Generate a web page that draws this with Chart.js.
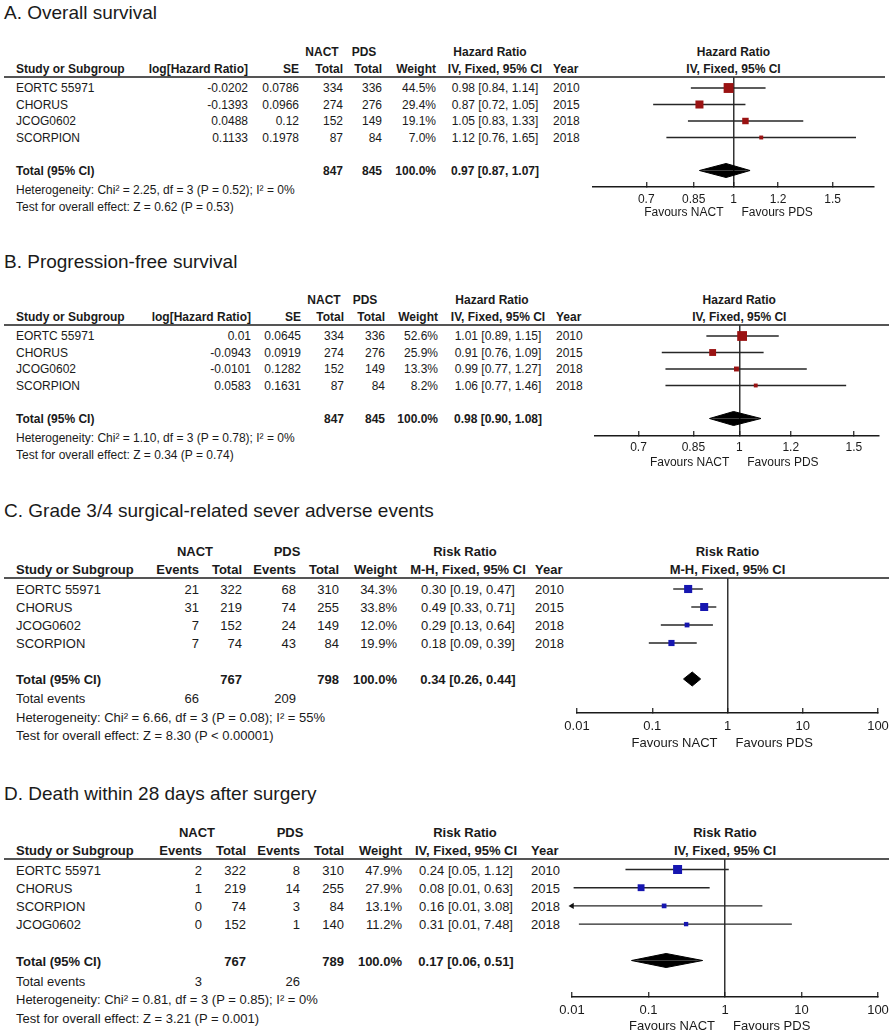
<!DOCTYPE html>
<html>
<head>
<meta charset="utf-8">
<script src="https://cdn.jsdelivr.net/npm/chart.js@4.4.1/dist/chart.umd.min.js"></script>
<style>
body { margin: 0; background: #fff; }
#page { position: relative; width: 894px; height: 1034px; overflow: hidden;
        font-family: 'Liberation Sans', Arial, sans-serif; color: #1a1a1a; }
.t { position: absolute; white-space: nowrap; line-height: 1; }
.b { font-weight: bold; }
.rule { position: absolute; height: 2px; background: #555; }
canvas { position: absolute; }
</style>
</head>
<body>
<div id="page"></div>
<script>
// A. Overall survival
const studiesA = ['EORTC 55971', 'CHORUS', 'JCOG0602', 'SCORPION'];
const yearsA = [2010, 2015, 2018, 2018];
const logHrA = [-0.0202, -0.1393, 0.0488, 0.1133];
const seA = [0.0786, 0.0966, 0.12, 0.1978];
const nactTotalA = [334, 274, 152, 87];
const pdsTotalA = [336, 276, 149, 84];
const weightA = [44.5, 29.4, 19.1, 7.0];
const hrA = [0.98, 0.87, 1.05, 1.12];
const hrLowA = [0.84, 0.72, 0.83, 0.76];
const hrHighA = [1.14, 1.05, 1.33, 1.65];
const totalA = [0.97, 0.87, 1.07];
const sumsA = [847, 845];
const statsA = ['Heterogeneity: Chi² = 2.25, df = 3 (P = 0.52); I² = 0%', 'Test for overall effect: Z = 0.62 (P = 0.53)'];
const ticksA = [0.7, 0.85, 1, 1.2, 1.5];

// B. Progression-free survival
const studiesB = ['EORTC 55971', 'CHORUS', 'JCOG0602', 'SCORPION'];
const yearsB = [2010, 2015, 2018, 2018];
const logHrB = [0.01, -0.0943, -0.0101, 0.0583];
const seB = [0.0645, 0.0919, 0.1282, 0.1631];
const nactTotalB = [334, 274, 152, 87];
const pdsTotalB = [336, 276, 149, 84];
const weightB = [52.6, 25.9, 13.3, 8.2];
const hrB = [1.01, 0.91, 0.99, 1.06];
const hrLowB = [0.89, 0.76, 0.77, 0.77];
const hrHighB = [1.15, 1.09, 1.27, 1.46];
const totalB = [0.98, 0.90, 1.08];
const sumsB = [847, 845];
const statsB = ['Heterogeneity: Chi² = 1.10, df = 3 (P = 0.78); I² = 0%', 'Test for overall effect: Z = 0.34 (P = 0.74)'];
const ticksB = [0.7, 0.85, 1, 1.2, 1.5];

// C. Grade 3/4 surgical-related adverse events
const studiesC = ['EORTC 55971', 'CHORUS', 'JCOG0602', 'SCORPION'];
const yearsC = [2010, 2015, 2018, 2018];
const nactEventsC = [21, 31, 7, 7];
const nactTotalC = [322, 219, 152, 74];
const pdsEventsC = [68, 74, 24, 43];
const pdsTotalC = [310, 255, 149, 84];
const weightC = [34.3, 33.8, 12.0, 19.9];
const rrC = [0.30, 0.49, 0.29, 0.18];
const rrLowC = [0.19, 0.33, 0.13, 0.09];
const rrHighC = [0.47, 0.71, 0.64, 0.39];
const totalC = [0.34, 0.26, 0.44];
const sumsC = [767, 798];
const eventsC = [66, 209];
const statsC = ['Heterogeneity: Chi² = 6.66, df = 3 (P = 0.08); I² = 55%', 'Test for overall effect: Z = 8.30 (P < 0.00001)'];
const ticksC = [0.01, 0.1, 1, 10, 100];

// D. Death within 28 days
const studiesD = ['EORTC 55971', 'CHORUS', 'SCORPION', 'JCOG0602'];
const yearsD = [2010, 2015, 2018, 2018];
const nactEventsD = [2, 1, 0, 0];
const nactTotalD = [322, 219, 74, 152];
const pdsEventsD = [8, 14, 3, 1];
const pdsTotalD = [310, 255, 84, 140];
const weightD = [47.9, 27.9, 13.1, 11.2];
const rrD = [0.24, 0.08, 0.16, 0.31];
const rrLowD = [0.05, 0.0105, 0.008, 0.0123];
const rrHighD = [1.12, 0.63, 3.08, 7.48];
const totalD = [0.17, 0.06, 0.51];
const sumsD = [767, 789];
const eventsD = [3, 26];
const statsD = ['Heterogeneity: Chi² = 0.81, df = 3 (P = 0.85); I² = 0%', 'Test for overall effect: Z = 3.21 (P = 0.001)'];
const ticksD = [0.01, 0.1, 1, 10, 100];

const FONT = "'Liberation Sans', Arial, sans-serif";
const page = document.getElementById('page');

function put(s, x, y, align, size, bold) {
    const d = document.createElement('div');
    d.className = 't' + (bold ? ' b' : '');
    d.textContent = s;
    d.style.left = x + 'px';
    d.style.top = y + 'px';
    d.style.fontSize = size + 'px';
    const tx = align === 'right' ? -100 : align === 'center' ? -50 : 0;
    d.style.transform = 'translate(' + tx + '%, -50%)';
    page.appendChild(d);
}

const pct = w => w.toFixed(1) + '%';
const ci = (e, l, h) => e.toFixed(2) + ' [' + l.toFixed(2) + ', ' + h.toFixed(2) + ']';

function hrCols(x, studies, logHr, se, nT, pT, w, e, lo, hi, tot, sums, years, ciHead) {
    return [
        { x: x[0], a: 'left', h: 'Study or Subgroup', v: studies, t: 'Total (95% CI)' },
        { x: x[1], a: 'right', h: 'log[Hazard Ratio]', v: logHr.map(String) },
        { x: x[2], a: 'right', h: 'SE', v: se.map(String) },
        { x: x[3], a: 'right', h: 'Total', v: nT, t: sums[0] },
        { x: x[4], a: 'right', h: 'Total', v: pT, t: sums[1] },
        { x: x[5], a: 'right', h: 'Weight', v: w.map(pct), t: '100.0%' },
        { x: x[6], a: 'center', h: ciHead, v: e.map((v, i) => ci(v, lo[i], hi[i])), t: ci(tot[0], tot[1], tot[2]) },
        { x: x[7], a: 'left', h: 'Year', v: years }
    ];
}

function rrCols(x, studies, nE, nT, pE, pT, w, e, lo, hi, tot, sums, events, years, ciHead) {
    return [
        { x: x[0], a: 'left', h: 'Study or Subgroup', v: studies, t: 'Total (95% CI)', ev: 'Total events' },
        { x: x[1], a: 'right', h: 'Events', v: nE, ev: events[0] },
        { x: x[2], a: 'right', h: 'Total', v: nT, t: sums[0] },
        { x: x[3], a: 'right', h: 'Events', v: pE, ev: events[1] },
        { x: x[4], a: 'right', h: 'Total', v: pT, t: sums[1] },
        { x: x[5], a: 'right', h: 'Weight', v: w.map(pct), t: '100.0%' },
        { x: x[6], a: 'center', h: ciHead, v: e.map((v, i) => ci(v, lo[i], hi[i])), t: ci(tot[0], tot[1], tot[2]) },
        { x: x[7], a: 'left', h: 'Year', v: years }
    ];
}

const panels = [
    {
        title: 'A. Overall survival', font: 12, titleY: 12, h1Y: 52, h2Y: 69, lineY: 77, lineR: 885,
        row0: 88, step: 16.5, hetY: 190, testY: 207,
        plotL: 593, plotR: 874, axisY: 187, xmin: 0.563, xmax: 1.776, k: 1.48, color: '#9a1212',
        tickPad: 10, favDy: 25,
        groups: [['NACT', 322], ['PDS', 364], ['Hazard Ratio', 490]],
        plotHead: ['Hazard Ratio', 'IV, Fixed, 95% CI'],
        cols: hrCols([16, 248, 299, 343, 382, 436, 495, 553], studiesA, logHrA, seA, nactTotalA, pdsTotalA,
            weightA, hrA, hrLowA, hrHighA, totalA, sumsA, yearsA, 'IV, Fixed, 95% CI'),
        est: hrA, low: hrLowA, high: hrHighA, weight: weightA, total: totalA, stats: statsA, ticks: ticksA
    },
    {
        title: 'B. Progression-free survival', font: 12, titleY: 261, h1Y: 300, h2Y: 317, lineY: 325, lineR: 889,
        row0: 336, step: 16.5, hetY: 438, testY: 455,
        plotL: 595, plotR: 879, axisY: 436, xmin: 0.61, xmax: 1.64, k: 1.35, color: '#9a1212',
        tickPad: 9, favDy: 26,
        groups: [['NACT', 324], ['PDS', 365], ['Hazard Ratio', 492]],
        plotHead: ['Hazard Ratio', 'IV, Fixed, 95% CI'],
        cols: hrCols([16, 251, 301, 344, 385, 438, 498, 556], studiesB, logHrB, seB, nactTotalB, pdsTotalB,
            weightB, hrB, hrLowB, hrHighB, totalB, sumsB, yearsB, 'IV, Fixed, 95% CI'),
        est: hrB, low: hrLowB, high: hrHighB, weight: weightB, total: totalB, stats: statsB, ticks: ticksB
    },
    {
        title: 'C. Grade 3/4 surgical-related sever adverse events', font: 13, titleY: 510, h1Y: 551, h2Y: 569, lineY: 578, lineR: 889,
        row0: 589, step: 18, evY: 698, hetY: 717, testY: 735,
        plotL: 577, plotR: 878, axisY: 713, xmin: 0.01, xmax: 100, k: 1.38, color: '#1616b0',
        tickPad: 11, favDy: 29,
        groups: [['NACT', 195], ['PDS', 287], ['Risk Ratio', 465]],
        plotHead: ['Risk Ratio', 'M-H, Fixed, 95% CI'],
        cols: rrCols([16, 199, 242, 296, 339, 397, 468, 535], studiesC, nactEventsC, nactTotalC, pdsEventsC, pdsTotalC,
            weightC, rrC, rrLowC, rrHighC, totalC, sumsC, eventsC, yearsC, 'M-H, Fixed, 95% CI'),
        est: rrC, low: rrLowC, high: rrHighC, weight: weightC, total: totalC, stats: statsC, ticks: ticksC
    },
    {
        title: 'D. Death within 28 days after surgery', font: 13, titleY: 793, h1Y: 832, h2Y: 850, lineY: 859, lineR: 889,
        row0: 869.5, step: 18.2, evY: 981, hetY: 999, testY: 1018,
        plotL: 572, plotR: 878, axisY: 997, xmin: 0.01, xmax: 100, k: 1.3, color: '#1616b0',
        tickPad: 11, favDy: 28,
        groups: [['NACT', 197], ['PDS', 290], ['Risk Ratio', 465]],
        plotHead: ['Risk Ratio', 'IV, Fixed, 95% CI'],
        cols: rrCols([16, 202, 246, 300, 344, 402, 466, 531], studiesD, nactEventsD, nactTotalD, pdsEventsD, pdsTotalD,
            weightD, rrD, rrLowD, rrHighD, totalD, sumsD, eventsD, yearsD, 'IV, Fixed, 95% CI'),
        est: rrD, low: rrLowD, high: rrHighD, weight: weightD, total: totalD, stats: statsD, ticks: ticksD
    }
];

const TOTAL_ROW = 5;

function drawTable(p) {
    const f = p.font;
    put(p.title, 4, p.titleY, 'left', 19, false);
    p.groups.forEach(g => put(g[0], g[1], p.h1Y, 'center', f, true));
    p.cols.forEach(c => {
        put(c.h, c.x, p.h2Y, c.a, f, true);
        c.v.forEach((v, i) => put(String(v), c.x, p.row0 + i * p.step, c.a, f, false));
        if (c.t !== undefined) put(String(c.t), c.x, p.row0 + TOTAL_ROW * p.step, c.a, f, true);
        if (c.ev !== undefined && p.evY) put(String(c.ev), c.x, p.evY, c.a, f, false);
    });
    put(p.stats[0], 16, p.hetY, 'left', f, false);
    put(p.stats[1], 16, p.testY, 'left', f, false);
    const r = document.createElement('div');
    r.className = 'rule';
    r.style.left = '4px';
    r.style.top = (p.lineY - 1) + 'px';
    r.style.width = (p.lineR - 4) + 'px';
    page.appendChild(r);
}

function drawForest(p) {
    const padX = 24, below = 34;
    const w = p.plotR - p.plotL + 2 * padX;
    const h = p.axisY - p.lineY + below;
    const cv = document.createElement('canvas');
    cv.width = w; cv.height = h;
    cv.style.width = w + 'px'; cv.style.height = h + 'px';
    cv.style.left = (p.plotL - padX) + 'px';
    cv.style.top = p.lineY + 'px';
    page.appendChild(cv);

    const datasets = [];
    // boxes, sized by weight
    datasets.push({
        type: 'scatter', order: 0,
        data: p.est.map((v, i) => ({ x: v, y: i })),
        pointStyle: 'rect',
        pointRadius: c => p.k * Math.sqrt(p.weight[c.dataIndex]) / Math.SQRT2,
        backgroundColor: p.color, borderColor: p.color, borderWidth: 0
    });
    // confidence intervals
    p.est.forEach((v, i) => {
        datasets.push({
            type: 'line', order: 2,
            data: [{ x: Math.max(p.low[i], p.xmin), y: i }, { x: Math.min(p.high[i], p.xmax), y: i }],
            borderColor: '#262626', borderWidth: 1.4, pointRadius: 0, fill: false
        });
    });
    // arrows for intervals running off the scale
    const cut = p.low.map((v, i) => v < p.xmin ? i : -1).filter(i => i >= 0);
    if (cut.length) {
        datasets.push({
            type: 'scatter', order: 1, clip: false,
            data: cut.map(i => ({ x: p.xmin, y: i })),
            pointStyle: 'triangle', rotation: -90, pointRadius: 3.5,
            backgroundColor: '#111', borderWidth: 0
        });
    }
    // pooled diamond
    const [te, tl, th] = p.total;
    const dh = 7 / p.step;
    [-1, 1].forEach(s => {
        datasets.push({
            type: 'line', order: 1,
            data: [{ x: tl, y: TOTAL_ROW }, { x: te, y: TOTAL_ROW + s * dh }, { x: th, y: TOTAL_ROW }],
            fill: { value: TOTAL_ROW }, backgroundColor: '#000', borderColor: '#000',
            borderWidth: 1, pointRadius: 0
        });
    });

    const chart = new Chart(cv, {
        type: 'scatter',
        data: { datasets: datasets },
        options: {
            responsive: false,
            animation: false,
            events: [],
            layout: { autoPadding: false, padding: { left: padX, right: padX, top: 0, bottom: 0 } },
            plugins: { legend: { display: false }, tooltip: { enabled: false } },
            scales: {
                x: {
                    type: 'logarithmic', min: p.xmin, max: p.xmax,
                    afterBuildTicks: s => { s.ticks = p.ticks.map(v => ({ value: v })); },
                    afterFit: s => { s.height = below; },
                    ticks: {
                        autoSkip: false, maxRotation: 0, padding: p.tickPad, color: '#1a1a1a',
                        font: { family: FONT, size: p.font },
                        callback: v => String(v)
                    },
                    grid: {
                        drawOnChartArea: true,
                        color: c => (c.tick && c.tick.value === 1) ? '#333' : 'rgba(0,0,0,0)',
                        lineWidth: 1.5, tickColor: '#1a1a1a', tickWidth: 1.2, tickLength: -5
                    },
                    border: { display: true, color: '#1a1a1a', width: 1.5 }
                },
                y: {
                    type: 'linear', reverse: true, display: false,
                    min: (p.lineY - p.row0) / p.step,
                    max: (p.axisY - p.row0) / p.step
                }
            }
        }
    });

    const x1 = p.plotL - padX + chart.scales.x.getPixelForValue(1);
    put(p.plotHead[0], x1, p.h1Y, 'center', p.font, true);
    put(p.plotHead[1], x1, p.h2Y, 'center', p.font, true);
    put('Favours NACT', x1 - 10, p.axisY + p.favDy, 'right', p.font, false);
    put('Favours PDS', x1 + 8, p.axisY + p.favDy, 'left', p.font, false);
}

panels.forEach(p => { drawTable(p); drawForest(p); });
</script>
</body>
</html>
